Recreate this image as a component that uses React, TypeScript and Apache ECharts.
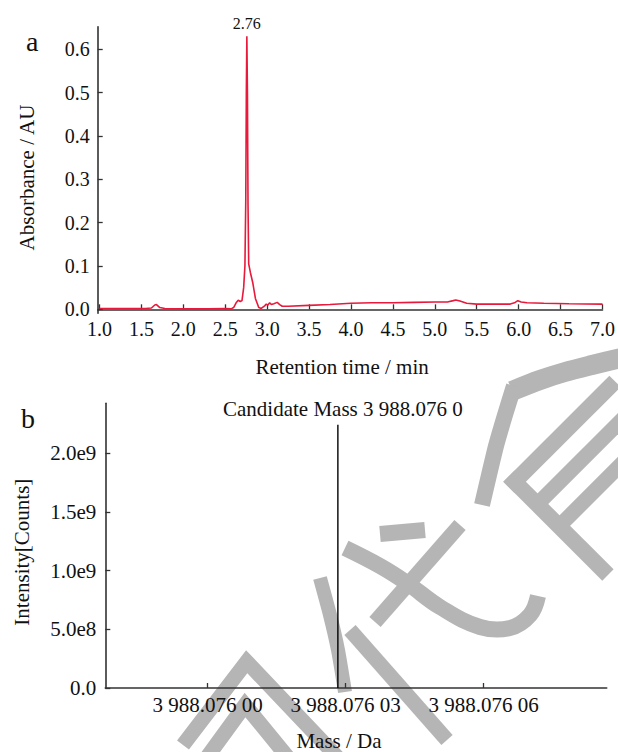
import React, { useEffect, useRef } from "react";
import * as echarts from "echarts";

// ---------- Panel a: chromatogram ----------
const retentionTime = [
  1.0, 1.2, 1.4, 1.55, 1.62, 1.66, 1.68, 1.72, 1.78, 2.0, 2.3, 2.5, 2.57, 2.6, 2.63, 2.655,
  2.68, 2.7, 2.72, 2.735, 2.745, 2.752, 2.758, 2.765, 2.772, 2.78, 2.8, 2.83, 2.86, 2.9,
  2.93, 2.97, 2.99, 3.01, 3.03, 3.05, 3.08, 3.12, 3.15, 3.18, 3.25, 3.5, 3.75, 4.0, 4.25,
  4.5, 4.75, 5.0, 5.15, 5.22, 5.25, 5.3, 5.38, 5.5, 5.7, 5.9, 5.95, 5.99, 6.03, 6.1, 6.3,
  6.6, 7.0,
];
const absorbance = [
  0.002, 0.002, 0.002, 0.002, 0.003, 0.010, 0.011, 0.004, 0.002, 0.001, 0.001, 0.002, 0.001,
  0.004, 0.015, 0.021, 0.018, 0.02, 0.05, 0.1, 0.25, 0.5, 0.63, 0.5, 0.24, 0.105, 0.085,
  0.06, 0.025, 0.004, 0.002, 0.008, 0.012, 0.01, 0.015, 0.011, 0.013, 0.016, 0.011, 0.007,
  0.007, 0.009, 0.011, 0.014, 0.015, 0.015, 0.016, 0.017, 0.017, 0.02, 0.0215, 0.019, 0.014,
  0.012, 0.012, 0.012, 0.015, 0.02, 0.017, 0.015, 0.014, 0.013, 0.012,
];
const peakLabel = "2.76";
const timeTicks = [1.0, 1.5, 2.0, 2.5, 3.0, 3.5, 4.0, 4.5, 5.0, 5.5, 6.0, 6.5, 7.0];
const absorbanceTicks = [0, 0.1, 0.2, 0.3, 0.4, 0.5, 0.6];

// ---------- Panel b: mass spectrum ----------
const candidateMass = [3988.0760283, 3988.0760283];
const candidateIntensity = [0, 2.245e9];
const candidateLabel = "Candidate Mass 3 988.076 0";
const massTicks = [3988.076, 3988.07603, 3988.07606];
const massTickLabels = ["3 988.076 00", "3 988.076 03", "3 988.076 06"];
const intensityTicks = [0, 5e8, 1e9, 1.5e9, 2e9];
const intensityTickLabels = ["0.0", "5.0e8", "1.0e9", "1.5e9", "2.0e9"];

const FONT = "'Liberation Serif', 'Times New Roman', serif";
const AXIS_COLOR = "#333";
const TEXT_COLOR = "#111";
const WM = "#b5b5b5";

function nearestLabel(v: number, ticks: number[], labels: string[]) {
  let best = 0;
  for (let i = 1; i < ticks.length; i++) {
    if (Math.abs(ticks[i] - v) < Math.abs(ticks[best] - v)) best = i;
  }
  return labels[best];
}

function wm(points: number[][], lineWidth: number, smooth = 0) {
  return {
    type: "polyline",
    z: -1,
    silent: true,
    shape: { points, smooth },
    style: { stroke: WM, lineWidth, fill: "none", lineCap: "butt", lineJoin: "miter" },
  };
}

const P = (u: number, v: number) => [503.3 + 0.707 * (u + v), 481.7 + 0.707 * (v - u)];

export default function App() {
  const ref = useRef<HTMLDivElement>(null);
  useEffect(() => {
    if (!ref.current) return;
    const chart = echarts.init(ref.current, undefined, { renderer: "svg" });
    const peakIdx = absorbance.indexOf(Math.max(...absorbance));
    const dataA = retentionTime.map((t, i) => [t, absorbance[i]]);
    const dataB = candidateMass.map((m, i) => [m, candidateIntensity[i]]);
    const topB = candidateIntensity.length - 1;
    const axisLine = { show: true, lineStyle: { color: AXIS_COLOR, width: 1.6 } };
    const axisTick = (vals: number[]) => ({
      show: true,
      inside: true,
      length: 5,
      customValues: vals,
      lineStyle: { color: AXIS_COLOR, width: 1.3 },
    });
    chart.setOption({
      animation: false,
      backgroundColor: "#fff",
      textStyle: { fontFamily: FONT },
      grid: [
        { left: 97.7, top: 26.7, width: 506.3, height: 286.6 },
        { left: 105.3, top: 403.3, width: 501.4, height: 288.4 },
      ],
      xAxis: [
        {
          type: "value",
          gridIndex: 0,
          min: 0.979,
          max: 7.0,
          axisLine,
          axisTick: axisTick(timeTicks),
          splitLine: { show: false },
          axisLabel: {
            customValues: timeTicks,
            formatter: (v: number) => v.toFixed(1),
            fontFamily: FONT,
            fontSize: 20,
            color: TEXT_COLOR,
            margin: 6,
          },
          name: "Retention time / min",
          nameLocation: "middle",
          nameGap: 43,
          nameTextStyle: { fontFamily: FONT, fontSize: 21, color: TEXT_COLOR, padding: [0, 16, 0, 0] },
        },
        {
          type: "value",
          gridIndex: 1,
          min: 3988.07597774,
          max: 3988.07608674,
          axisLine,
          axisTick: axisTick(massTicks),
          splitLine: { show: false },
          axisLabel: {
            customValues: massTicks,
            formatter: (v: number) => nearestLabel(v, massTicks, massTickLabels),
            fontFamily: FONT,
            fontSize: 21,
            color: TEXT_COLOR,
            margin: 6,
          },
          name: "Mass / Da",
          nameLocation: "middle",
          nameGap: 42,
          nameTextStyle: { fontFamily: FONT, fontSize: 21, color: TEXT_COLOR, padding: [0, 34, 0, 0] },
        },
      ],
      yAxis: [
        {
          type: "value",
          gridIndex: 0,
          min: -0.0092,
          max: 0.652,
          axisLine,
          axisTick: axisTick(absorbanceTicks),
          splitLine: { show: false },
          axisLabel: {
            customValues: absorbanceTicks,
            formatter: (v: number) => v.toFixed(1),
            fontFamily: FONT,
            fontSize: 20,
            color: TEXT_COLOR,
            margin: 8,
          },
          name: "Absorbance / AU",
          nameLocation: "middle",
          nameGap: 60,
          nameTextStyle: { fontFamily: FONT, fontSize: 21, color: TEXT_COLOR, padding: [0, 15, 0, 0] },
        },
        {
          type: "value",
          gridIndex: 1,
          min: 0,
          max: 2.428e9,
          axisLine,
          axisTick: axisTick(intensityTicks),
          splitLine: { show: false },
          axisLabel: {
            customValues: intensityTicks,
            formatter: (v: number) => nearestLabel(v, intensityTicks, intensityTickLabels),
            fontFamily: FONT,
            fontSize: 21,
            color: TEXT_COLOR,
            margin: 9,
          },
          name: "Intensity[Counts]",
          nameLocation: "middle",
          nameGap: 73,
          nameTextStyle: { fontFamily: FONT, fontSize: 21, color: TEXT_COLOR, padding: [0, 13, 0, 0] },
        },
      ],
      series: [
        {
          type: "line",
          xAxisIndex: 0,
          yAxisIndex: 0,
          data: dataA,
          showSymbol: false,
          symbol: "none",
          lineStyle: { color: "#e8193a", width: 1.6 },
          z: 3,
          markPoint: {
            symbol: "circle",
            symbolSize: 0,
            silent: true,
            data: [{ coord: [retentionTime[peakIdx], absorbance[peakIdx]], value: peakLabel }],
            label: {
              show: true,
              formatter: peakLabel,
              position: "top",
              distance: 5,
              fontFamily: FONT,
              fontSize: 16,
              color: TEXT_COLOR,
            },
          },
        },
        {
          type: "line",
          xAxisIndex: 1,
          yAxisIndex: 1,
          data: dataB,
          showSymbol: false,
          symbol: "none",
          lineStyle: { color: "#000", width: 1.4 },
          z: 3,
          markPoint: {
            symbol: "circle",
            symbolSize: 0,
            silent: true,
            data: [{ coord: [candidateMass[topB], candidateIntensity[topB]], value: candidateLabel }],
            label: {
              show: true,
              formatter: candidateLabel,
              position: "top",
              distance: 5,
              offset: [5, 0],
              fontFamily: FONT,
              fontSize: 21,
              color: TEXT_COLOR,
            },
          },
        },
      ],
      graphic: [
        { type: "text", left: 26, top: 27, z: 5, style: { text: "a", fontFamily: FONT, fontSize: 28, fill: TEXT_COLOR } },
        { type: "text", left: 21, top: 404, z: 5, style: { text: "b", fontFamily: FONT, fontSize: 28, fill: TEXT_COLOR } },
        // watermark strokes
        wm([[512, 391], [540, 380], [565, 372], [592, 365], [625, 357]], 20, 0.3),
        wm([[514, 386], [505, 415], [496, 446], [482, 505]], 16, 0.2),
        wm([P(0, 8), P(150, 8)], 16),
        wm([P(8, 0), P(8, 140)], 16),
        wm([P(8, 40), P(160, 40)], 15),
        wm([P(8, 71), P(170, 71)], 15),
        wm([[380, 534], [425, 530]], 16),
        wm([[460, 525], [375, 622]], 15),
        wm([[345, 548], [380, 566], [407, 583], [440, 607], [480, 627], [510, 628], [530, 615], [538, 596]], 16, 0.4),
        wm([[320, 578], [330, 615], [338, 650], [345, 692]], 14, 0.2),
        wm([[350, 630], [447, 740]], 15),
        wm([[183, 745], [246.7, 661.7], [340, 760]], 15),
        wm([[205, 760], [245, 705], [290, 760]], 15),
      ],
    });
    return () => chart.dispose();
  }, []);
  return (
    <div
      ref={ref}
      style={{ position: "absolute", left: 0, top: 0, width: 618, height: 752, background: "#fff" }}
    />
  );
}
